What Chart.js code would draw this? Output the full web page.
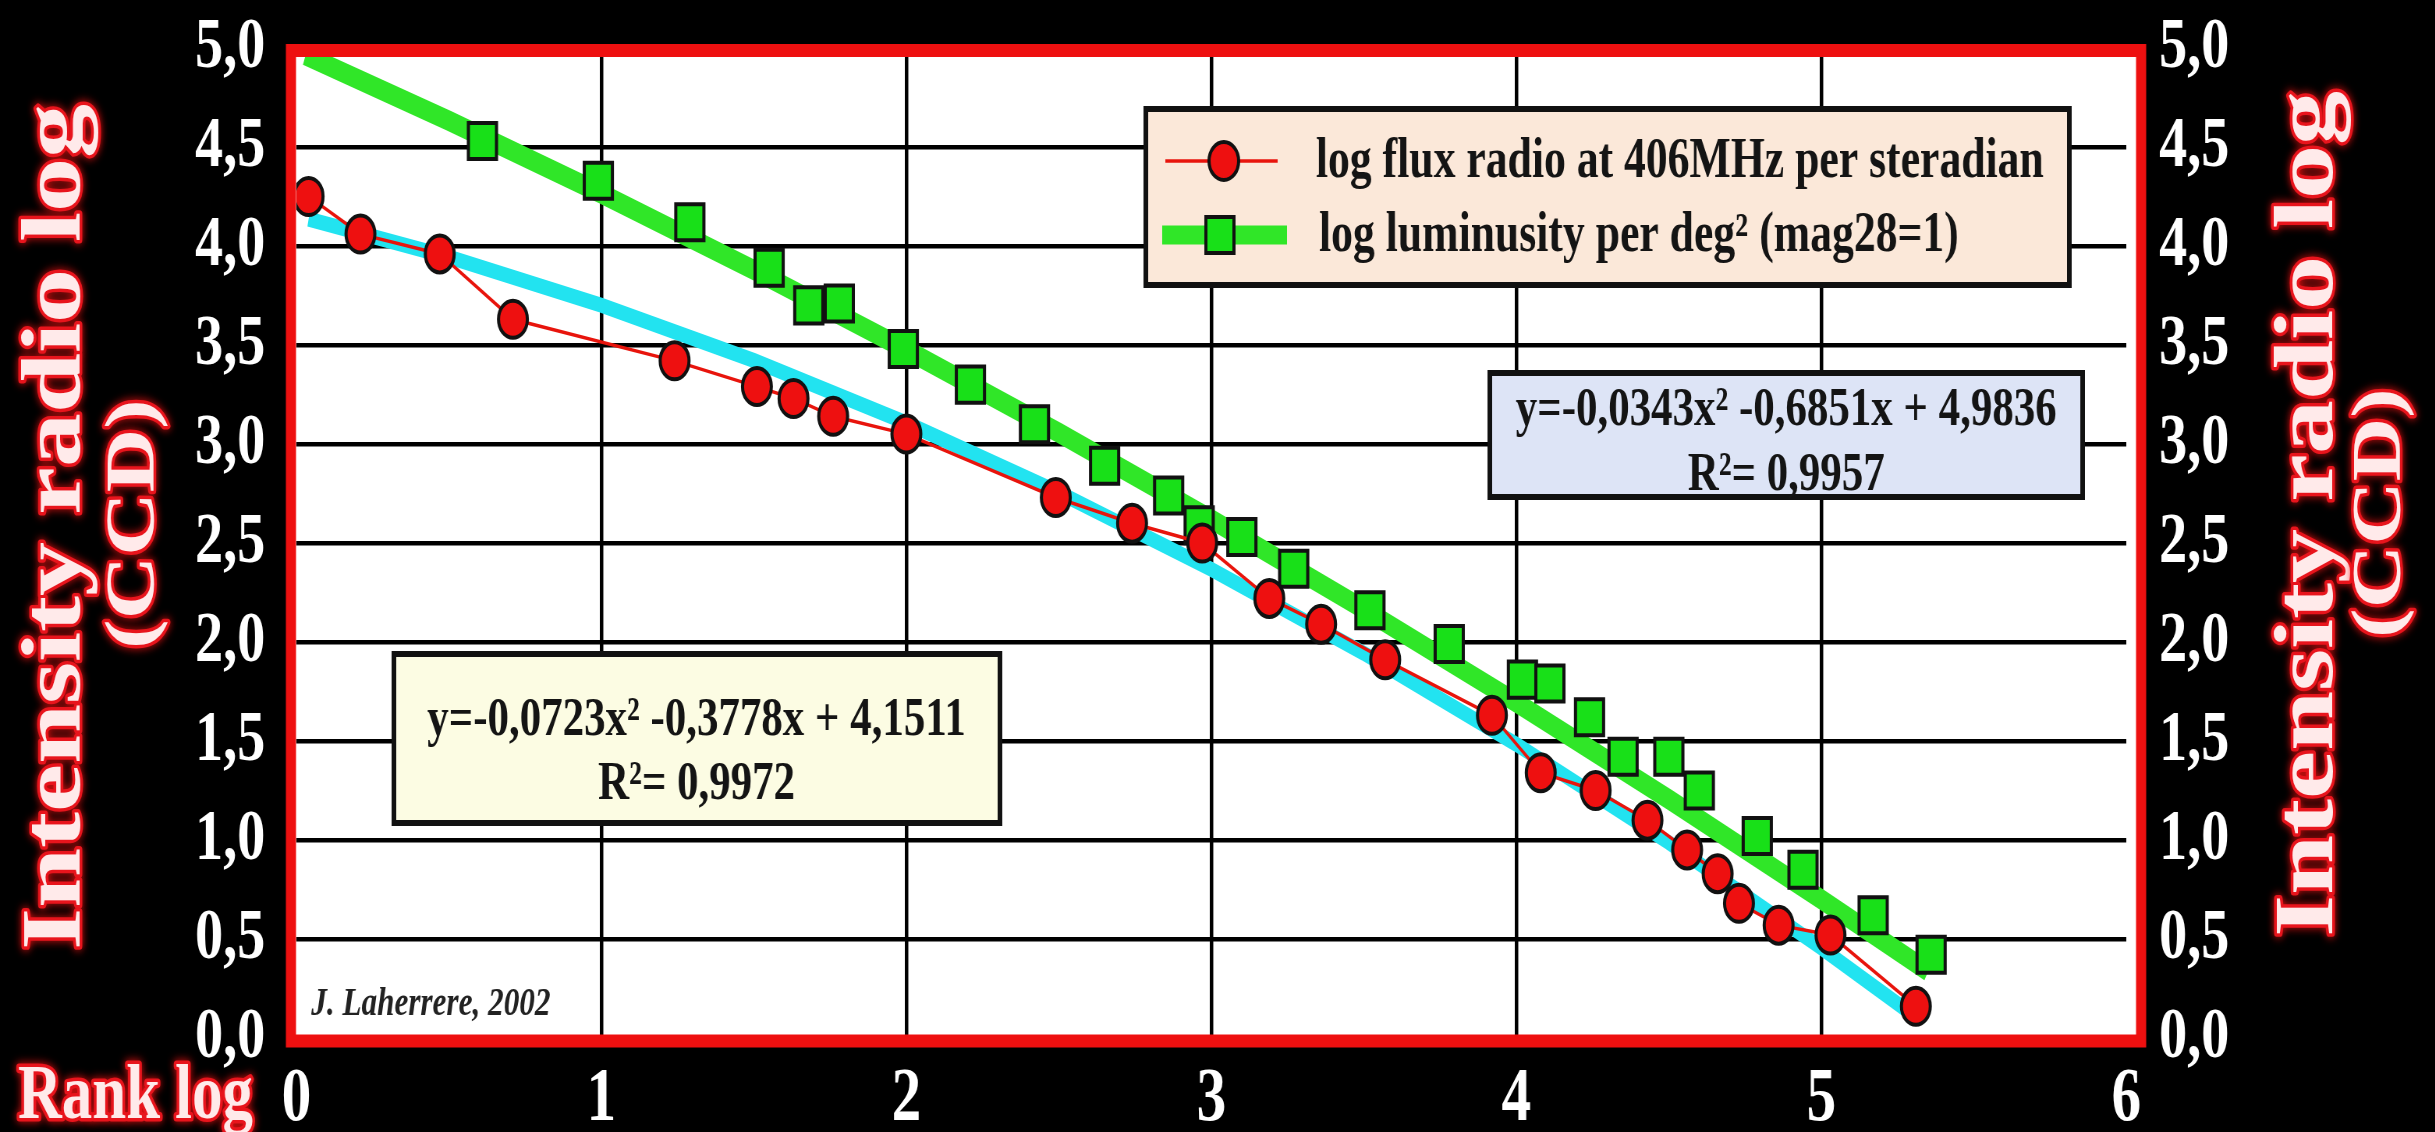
<!DOCTYPE html>
<html>
<head>
<meta charset="utf-8">
<script src="https://cdn.jsdelivr.net/npm/chart.js@4/dist/chart.umd.min.js"></script>
<style>
  html, body { margin: 0; padding: 0; background: #000; overflow: hidden; width: 2435px; height: 1132px; }
  /* the whole figure is set in a condensed face: draw wide, squeeze horizontally */
  #wrap { position: absolute; left: 0; top: 0; width: 3122px; height: 1132px; transform: scaleX(0.78); transform-origin: 0 0; }
  canvas { display: block; }
</style>
</head>
<body>
<div id="wrap"><canvas id="c" width="3122" height="1132" style="width:3122px;height:1132px"></canvas></div>
<script>
// Rank (log) and radio flux (log) of the sources
const rankFlux = [0.04, 0.21, 0.47, 0.71, 1.24, 1.51, 1.63, 1.76, 2.00, 2.49, 2.74, 2.97, 3.19, 3.36, 3.57, 3.92, 4.08, 4.26, 4.43, 4.56, 4.66, 4.73, 4.86, 5.03, 5.31];
const logFlux  = [4.25, 4.06, 3.96, 3.63, 3.42, 3.29, 3.23, 3.14, 3.05, 2.73, 2.60, 2.50, 2.22, 2.09, 1.91, 1.63, 1.34, 1.25, 1.10, 0.95, 0.83, 0.68, 0.57, 0.52, 0.16];

// Rank (log) and luminosity per square degree (log)
const rankLum = [0.61, 0.99, 1.29, 1.55, 1.68, 1.78, 1.99, 2.21, 2.42, 2.65, 2.86, 2.96, 3.10, 3.27, 3.52, 3.78, 4.02, 4.11, 4.24, 4.35, 4.50, 4.60, 4.79, 4.94, 5.17, 5.36];
const logLum  = [4.53, 4.33, 4.12, 3.89, 3.70, 3.71, 3.48, 3.30, 3.10, 2.89, 2.74, 2.59, 2.53, 2.37, 2.16, 1.99, 1.81, 1.79, 1.62, 1.42, 1.42, 1.25, 1.02, 0.85, 0.62, 0.42];

// Quadratic trend lines (a, b, c for y = a x^2 + b x + c) and their R^2
const fluxFit = [-0.0723, -0.3778, 4.1511];
const fluxR2 = 0.9972;
const lumFit = [-0.0343, -0.6851, 4.9836];
const lumR2 = 0.9957;
// abscissas where the trend curves are traced
const fluxFitX = [0.04, 0.5, 1, 1.5, 2, 2.5, 3, 3.5, 4, 4.5, 5, 5.31];
const lumFitX  = [0.03, 0.5, 1, 1.5, 2, 2.5, 3, 3.5, 4, 4.5, 5, 5.35];

const seriesNames = ['log flux radio at 406MHz per steradian', 'log luminusity per deg\u00B2 (mag28=1)'];
const xTickLabels = ['0', '1', '2', '3', '4', '5', '6'];
const yTickLabels = ['0,0', '0,5', '1,0', '1,5', '2,0', '2,5', '3,0', '3,5', '4,0', '4,5', '5,0'];
const yTitle = ['Intensity radio log', '(CCD)'];
const xTitle = 'Rank log';
const credit = 'J. Laherrere, 2002';

const SERIF = "'Liberation Serif', 'Times New Roman', serif";
const RED = '#ee1010';
const GREEN = '#18e018';
const GREEN_BAND = '#30e628';
const CYAN = '#22e3f0';

const pts = (xs, ys) => xs.map((x, i) => ({ x, y: ys[i] }));
const poly = (c, xs) => xs.map(x => ({ x, y: c[0] * x * x + c[1] * x + c[2] }));
const num = v => v.toFixed(4).replace('.', ',');
const eqText = c => `y=${num(c[0])}x\u00B2 ${num(c[1])}x + ${num(c[2])}`;
const r2Text = r => `R\u00B2= ${num(r)}`;

const hideEdge = edges => ctx => (ctx.tick && edges.includes(ctx.tick.value)) ? 'rgba(0,0,0,0)' : '#000';

function outlinedText(ctx, text, x, y, size, rotate) {
  ctx.save();
  ctx.translate(x, y);
  if (rotate) ctx.rotate(-Math.PI / 2);
  ctx.font = `bold ${size}px ${SERIF}`;
  ctx.textBaseline = 'alphabetic';
  ctx.textAlign = rotate ? 'center' : 'left';
  ctx.lineJoin = 'round';
  ctx.shadowColor = 'rgba(255,20,20,0.9)';
  ctx.shadowBlur = 10;
  ctx.strokeStyle = '#e8141c';
  ctx.lineWidth = 7;
  ctx.strokeText(text, 0, 0);
  ctx.shadowBlur = 0;
  ctx.fillStyle = '#ffeaea';
  ctx.fillText(text, 0, 0);
  ctx.restore();
}

function box(ctx, x, y, w, h, fill) {
  ctx.save();
  ctx.fillStyle = fill;
  ctx.fillRect(x, y, w, h);
  ctx.strokeStyle = '#111';
  ctx.lineWidth = 6;
  ctx.strokeRect(x, y, w, h);
  ctx.restore();
}

function centeredLines(ctx, lines, cx, baselines, size) {
  ctx.save();
  ctx.font = `bold ${size}px ${SERIF}`;
  ctx.fillStyle = '#141414';
  ctx.textAlign = 'center';
  ctx.textBaseline = 'alphabetic';
  lines.forEach((t, i) => ctx.fillText(t, cx, baselines[i]));
  ctx.restore();
}

const frame = {
  id: 'frame',
  beforeDraw(chart) {
    const { ctx, chartArea: a, width, height } = chart;
    ctx.save();
    ctx.fillStyle = '#000';
    ctx.fillRect(0, 0, width, height);
    ctx.fillStyle = '#fff';
    ctx.fillRect(a.left - 7, a.top + 2.5, a.right - a.left + 26, a.bottom - a.top + 0.5);
    ctx.restore();
  },
  afterDraw(chart) {
    const { ctx, chartArea: a } = chart;
    const ds = chart.data.datasets;

    // red plot frame
    ctx.save();
    ctx.strokeStyle = RED;
    ctx.lineWidth = 13;
    ctx.strokeRect(a.left - 7, a.top + 2.5, a.right - a.left + 26, a.bottom - a.top + 0.5);
    ctx.restore();

    // legend
    box(ctx, 1469, 109, 1184, 176, '#fbe8d9');
    ctx.save();
    ctx.strokeStyle = ds[0].borderColor;
    ctx.lineWidth = 3.5;
    ctx.beginPath(); ctx.moveTo(1494, 161); ctx.lineTo(1638, 161); ctx.stroke();
    ctx.beginPath(); ctx.arc(1569, 161, 19, 0, Math.PI * 2);
    ctx.fillStyle = ds[0].pointBackgroundColor; ctx.fill();
    ctx.strokeStyle = '#111'; ctx.lineWidth = 4; ctx.stroke();
    ctx.strokeStyle = GREEN_BAND;
    ctx.lineWidth = 19;
    ctx.beginPath(); ctx.moveTo(1490, 235); ctx.lineTo(1650, 235); ctx.stroke();
    ctx.fillStyle = ds[1].pointBackgroundColor;
    ctx.fillRect(1564 - 18, 235 - 18, 36, 36);
    ctx.strokeStyle = '#111'; ctx.lineWidth = 4;
    ctx.strokeRect(1564 - 18, 235 - 18, 36, 36);
    ctx.font = `bold 56px ${SERIF}`;
    ctx.fillStyle = '#141414';
    ctx.textBaseline = 'alphabetic';
    ctx.fillText(ds[0].label, 1687, 177);
    ctx.fillText(ds[1].label, 1691, 251);
    ctx.restore();

    // trend equations
    box(ctx, 505, 654, 777, 169, '#fcfce3');
    centeredLines(ctx, [eqText(fluxFit), r2Text(fluxR2)], 893, [735, 799], 55);
    box(ctx, 1910, 373, 760, 124, '#dde4f6');
    centeredLines(ctx, [eqText(lumFit), r2Text(lumR2)], 2290, [425, 490], 55);

    // author
    ctx.save();
    ctx.font = `italic bold 40px ${SERIF}`;
    ctx.fillStyle = '#222';
    ctx.textBaseline = 'alphabetic';
    ctx.fillText(credit, 399, 1015);
    ctx.restore();

    // axis titles
    outlinedText(ctx, yTitle[0], 102, 527, 108, true);
    outlinedText(ctx, yTitle[1], 196, 524, 88, true);
    outlinedText(ctx, yTitle[0], 2990, 514, 108, true);
    outlinedText(ctx, yTitle[1], 3076, 513, 88, true);
    outlinedText(ctx, xTitle, 23, 1118, 78, false);
  }
};

const yTicks = (pad) => ({
  stepSize: 0.5,
  color: '#fff',
  padding: pad,
  font: { family: SERIF, size: 72, weight: 'bold' },
  callback: v => yTickLabels[Math.round(v * 2)]
});

// fixed axis sizes so the plot area sits exactly inside the frame
const fixWidth = w => s => { s.width = w; s.paddingTop = 0; s.paddingBottom = 0; };

new Chart(document.getElementById('c'), {
  type: 'scatter',
  data: {
    datasets: [
      {
        label: seriesNames[0],
        data: pts(rankFlux, logFlux),
        showLine: true,
        borderColor: '#e8140c',
        borderWidth: 3.5,
        pointRadius: 18.5,
        pointHoverRadius: 18.5,
        pointBackgroundColor: RED,
        pointBorderColor: '#111',
        pointBorderWidth: 4,
        order: 1
      },
      {
        label: seriesNames[1],
        data: pts(rankLum, logLum),
        showLine: false,
        pointStyle: 'rect',
        pointRadius: 25.5,
        pointHoverRadius: 25.5,
        pointBackgroundColor: GREEN,
        pointBorderColor: '#111',
        pointBorderWidth: 4,
        order: 2
      },
      {
        label: 'Poly. (' + seriesNames[0] + ')',
        data: poly(fluxFit, fluxFitX),
        showLine: true,
        borderColor: CYAN,
        borderWidth: 15,
        pointRadius: 0,
        order: 3
      },
      {
        label: 'Poly. (' + seriesNames[1] + ')',
        data: poly(lumFit, lumFitX),
        showLine: true,
        borderColor: GREEN_BAND,
        borderWidth: 20,
        pointRadius: 0,
        order: 4
      }
    ]
  },
  options: {
    responsive: false,
    animation: false,
    devicePixelRatio: 1,
    layout: { padding: { top: 48, left: 0, right: 0, bottom: 0 } },
    plugins: { legend: { display: false }, tooltip: { enabled: false }, title: { display: false } },
    scales: {
      x: {
        type: 'linear', position: 'bottom', min: 0, max: 6,
        ticks: {
          stepSize: 1, color: '#fff', padding: 17, maxRotation: 0, autoSkip: false,
          font: { family: SERIF, size: 76, weight: 'bold' },
          callback: v => xTickLabels[Math.round(v)]
        },
        grid: { color: hideEdge([0, 6]), lineWidth: 4.5, drawTicks: false },
        border: { display: false },
        afterFit: s => { s.height = 94; s.paddingLeft = 0; s.paddingRight = 0; }
      },
      y: {
        type: 'linear', position: 'left', min: 0, max: 5,
        ticks: yTicks(40),
        grid: { color: hideEdge([0, 5]), lineWidth: 4.5, drawTicks: false },
        border: { display: false },
        afterFit: fixWidth(380)
      },
      y2: {
        type: 'linear', position: 'right', min: 0, max: 5,
        ticks: yTicks(42),
        grid: { display: false, drawTicks: false },
        border: { display: false },
        afterFit: fixWidth(396)
      }
    }
  },
  plugins: [frame]
});
</script>
</body>
</html>
